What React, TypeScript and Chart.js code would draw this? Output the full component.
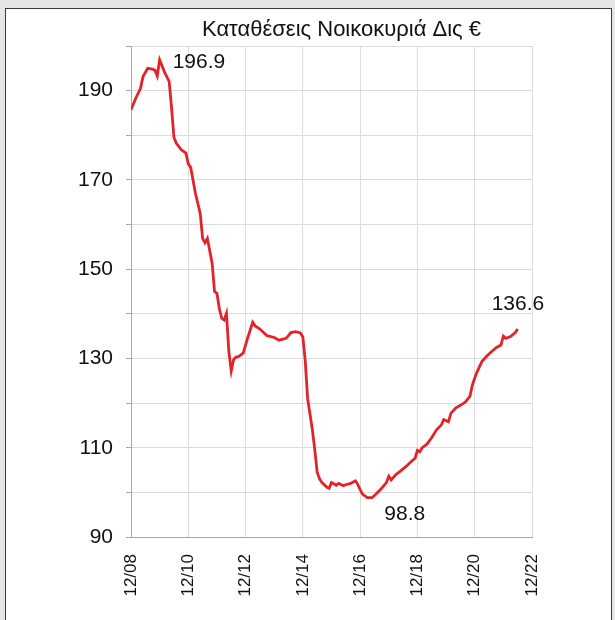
import React, { useEffect, useRef } from "react";
import { Chart, registerables } from "chart.js";

Chart.register(...registerables);

// Months since December 2008
const months: number[] = [
  0, 2, 4, 5, 7, 9, 10, 11, 12, 14, 16, 17, 18, 19, 21, 23, 24, 25, 27, 29,
  30, 31, 32, 34, 35, 36, 37, 38, 39, 40, 41, 42, 43, 44, 45, 47, 49, 51, 52, 54,
  57, 60, 62, 65, 67, 69, 71, 72, 73, 74, 75, 76, 77, 78, 79, 80, 82, 83, 84, 86,
  87, 89, 90, 92, 94, 95, 96, 97, 99, 101, 103, 105, 107, 108, 109, 111, 113, 115, 118, 119,
  120, 121, 122, 124, 126, 128, 130, 131, 133, 134, 136, 138, 140, 142, 143, 144, 145, 147, 149, 151,
  153, 155, 156, 157, 159, 161, 162,
];

// Household deposits, billion €
const deposits: number[] = [
  185.7, 188.3, 190.5, 193.1, 195.0, 194.8, 194.6, 193.3, 196.9, 194.2, 192.0, 186.1, 179.5, 178.2, 176.8, 176.0, 173.6, 172.8, 167.0, 162.5,
  156.9, 155.9, 156.9, 151.3, 145.0, 144.6, 141.2, 139.0, 138.6, 140.1, 131.5, 127.2, 129.8, 130.3, 130.4, 131.2, 134.8, 138.1, 137.3, 136.6,
  135.1, 134.7, 134.1, 134.5, 135.8, 136.0, 135.7, 134.8, 129.5, 121.0, 117.5, 114.0, 109.5, 104.5, 103.0, 102.2, 101.2, 100.9, 102.2, 101.6,
  102.0, 101.5, 101.7, 102.0, 102.6, 101.8, 100.6, 99.6, 98.8, 98.8, 99.8, 100.9, 102.2, 103.6, 102.8, 104.0, 104.8, 105.7, 107.2, 107.6,
  109.4, 109.1, 110.0, 110.8, 112.3, 114.0, 115.1, 116.3, 115.8, 117.7, 118.9, 119.5, 120.2, 121.5, 124.0, 125.6, 127.0, 129.3, 130.5, 131.5,
  132.4, 133.0, 135.0, 134.5, 134.9, 135.8, 136.6,
];

const xTickMonths: number[] = [0, 24, 48, 72, 96, 120, 144, 168];
const xTickLabels: string[] = ["12/08", "12/10", "12/12", "12/14", "12/16", "12/18", "12/20", "12/22"];
const yLabelValues: number[] = [90, 110, 130, 150, 170, 190];

const title = "Καταθέσεις Νοικοκυριά Δις €";
const peakLabel = "196.9";
const minLabel = "98.8";
const lastLabel = "136.6";

const FONT = "'Liberation Sans', Arial, sans-serif";
const TEXT = "#111111";

export default function App() {
  const canvasRef = useRef<HTMLCanvasElement | null>(null);

  useEffect(() => {
    const canvas = canvasRef.current;
    if (!canvas) return;

    const points = months.map((m, i) => ({ x: m, y: deposits[i] }));
    let peakIdx = 0;
    let minIdx = 0;
    deposits.forEach((v, i) => {
      if (v > deposits[peakIdx]) peakIdx = i;
      if (v < deposits[minIdx]) minIdx = i;
    });
    const lastIdx = deposits.length - 1;

    const annotate = {
      id: "annotate",
      afterDraw(chart: any) {
        const ctx = chart.ctx;
        const xs = chart.scales.x;
        const ys = chart.scales.y;
        const area = chart.chartArea;
        ctx.save();
        ctx.fillStyle = TEXT;
        ctx.textBaseline = "middle";
        ctx.textAlign = "center";
        ctx.font = `22px ${FONT}`;
        ctx.fillText(title, (area.left + area.right) / 2 + 10, 30);

        ctx.font = `21px ${FONT}`;
        ctx.textAlign = "left";
        ctx.fillText(peakLabel, xs.getPixelForValue(months[peakIdx]) + 13, ys.getPixelForValue(deposits[peakIdx]) + 2);
        ctx.fillText(minLabel, xs.getPixelForValue(months[minIdx]) + 17, ys.getPixelForValue(deposits[minIdx]) + 16);
        ctx.fillText(lastLabel, xs.getPixelForValue(months[lastIdx]) - 26, ys.getPixelForValue(deposits[lastIdx]) - 25);
        ctx.restore();
      },
    };

    const chart = new Chart(canvas, {
      type: "line",
      data: {
        datasets: [
          {
            data: points,
            borderColor: "#e2242a",
            borderWidth: 2.8,
            pointRadius: 0,
            tension: 0,
            fill: false,
          },
        ],
      },
      options: {
        responsive: false,
        animation: false,
        layout: { padding: { top: 46, right: 83, left: 0, bottom: 0 } },
        plugins: { legend: { display: false }, tooltip: { enabled: false }, title: { display: false } },
        scales: {
          x: {
            type: "linear",
            min: xTickMonths[0],
            max: xTickMonths[xTickMonths.length - 1],
            afterBuildTicks: (scale: any) => {
              scale.ticks = xTickMonths.map((v) => ({ value: v }));
            },
            afterFit: (scale: any) => {
              scale.height = 83;
            },
            ticks: {
              autoSkip: false,
              minRotation: 90,
              maxRotation: 90,
              padding: 17,
              color: TEXT,
              font: { family: FONT, size: 17 },
              callback: (v: any) => {
                const i = xTickMonths.indexOf(Number(v));
                return i >= 0 ? xTickLabels[i] : "";
              },
            },
            grid: { color: "#dcdcdc", lineWidth: 1, drawTicks: false },
            border: { color: "#a8a8a8", width: 1 },
          },
          y: {
            type: "linear",
            min: 90,
            max: 200,
            afterFit: (scale: any) => {
              scale.width = 131;
            },
            ticks: {
              stepSize: 10,
              autoSkip: false,
              padding: 13,
              color: TEXT,
              font: { family: FONT, size: 21 },
              callback: (v: any) => (yLabelValues.includes(Number(v)) ? String(v) : ""),
            },
            grid: { color: "#dcdcdc", lineWidth: 1, tickLength: 5, tickColor: "#a8a8a8" },
            border: { color: "#a8a8a8", width: 1 },
          },
        },
      },
      plugins: [annotate],
    });

    return () => chart.destroy();
  }, []);

  return (
    <div style={{ position: "fixed", left: 0, top: 0, width: 615, height: 620, background: "#e6e6e6", overflow: "hidden" }}>
      <div
        style={{
          position: "absolute",
          left: 5,
          top: 8,
          width: 605,
          height: 630,
          background: "#ffffff",
          border: "1px solid #3a3a3a",
        }}
      />
      <canvas ref={canvasRef} width={615} height={620} style={{ position: "absolute", left: 0, top: 0 }} />
    </div>
  );
}
